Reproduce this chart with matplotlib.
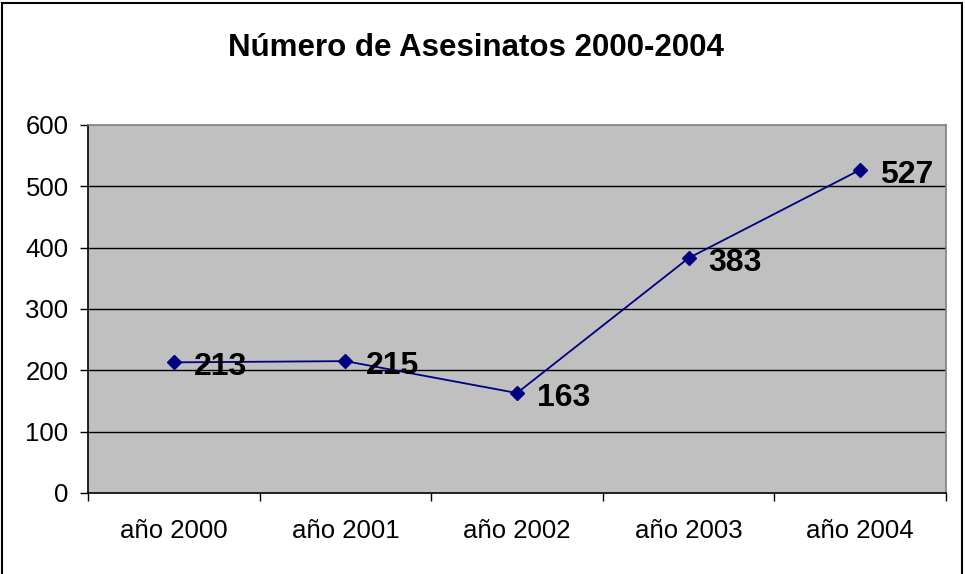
import matplotlib
matplotlib.use("Agg")
import matplotlib.pyplot as plt
from matplotlib.patches import Rectangle
import numpy as np

# datos del grafico
categorias = ["año 2000", "año 2001", "año 2002", "año 2003", "año 2004"]
asesinatos = [213, 215, 163, 383, 527]
titulo = "Número de Asesinatos 2000-2004"

plt.rcParams['font.family'] = ['Liberation Sans', 'DejaVu Sans']

fig = plt.figure(figsize=(9.65, 5.74), dpi=100)
ax = fig.add_axes([88 / 965, 1 - 493 / 574, (946 - 88) / 965, (493 - 125) / 574])
ax.set_facecolor('#c0c0c0')

x = np.arange(len(categorias))
ax.plot(x, asesinatos, color='#000080', linewidth=1.3, marker='D',
        markersize=7, markerfacecolor='#000080', markeredgecolor='#000080', zorder=3)

for xi, v in zip(x, asesinatos):
    ax.annotate(str(v), (xi, v), xytext=(20, -13), textcoords='offset pixels',
                ha='left', va='baseline', fontsize=23, fontweight='bold', color='black',
                zorder=4)

ax.set_xlim(-0.5, len(categorias) - 0.5)
ax.set_ylim(0, 600)
ax.set_yticks(range(0, 601, 100))
ax.set_yticklabels([str(t) for t in range(0, 601, 100)])
ax.tick_params(axis='y', direction='out', length=6, width=1, pad=8, labelsize=18.5)

ax.set_xticks(x)
ax.set_xticklabels(categorias)
ax.set_xticks(np.arange(-0.5, len(categorias)), minor=True)
ax.tick_params(axis='x', which='major', length=0, pad=19, labelsize=18.5)
ax.tick_params(axis='x', which='minor', direction='out', length=6, width=1)

for yv in range(100, 600, 100):
    ax.axhline(yv, color='black', linewidth=1, zorder=1)

ax.spines['left'].set_color('black')
ax.spines['bottom'].set_color('black')
ax.spines['top'].set_color('#808080')
ax.spines['right'].set_color('#808080')
for s in ax.spines.values():
    s.set_linewidth(1.2)

# titulo: linea base bajo las mayusculas
fig.text(476 / 965, 1 - 56 / 574, titulo, ha='center', va='baseline',
         fontsize=22.5, fontweight='bold')

# marco exterior del grafico
fig.patches.append(Rectangle((2 / 965, -0.05), 960 / 965, 1.05 - 3 / 574,
                             transform=fig.transFigure, fill=False,
                             edgecolor='black', linewidth=1.5, clip_on=False))

fig.savefig('out.png', dpi=100)
